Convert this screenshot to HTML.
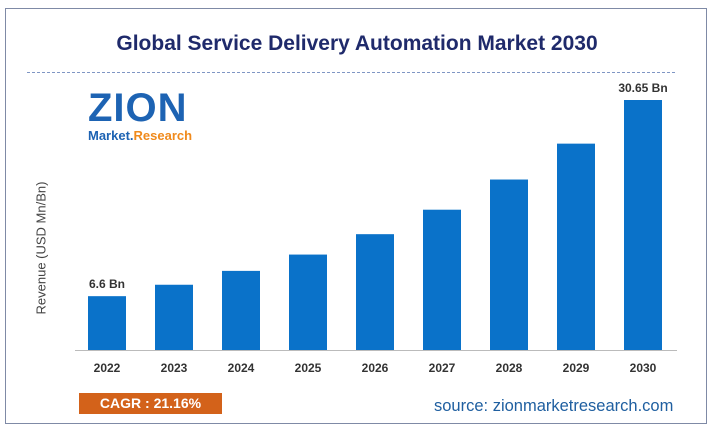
<!DOCTYPE html>
<html><head><meta charset="utf-8"><style>
body{margin:0;width:714px;height:434px;background:#fff;font-family:"Liberation Sans",sans-serif;position:relative;overflow:hidden}
.frame{position:absolute;left:5px;top:8px;width:702px;height:416px;border:1.5px solid #7f8aa6;box-sizing:border-box}
</style></head><body>
<div class="frame"></div>
<div style="position:absolute;left:0;width:714px;top:32px;text-align:center;font-size:21px;font-weight:bold;color:#1f2a6b">Global Service Delivery Automation Market 2030</div>
<div style="position:absolute;left:27px;top:72px;width:648px;border-top:1.5px dashed #7f96c4"></div>
<div style="position:absolute;left:88px;top:88px;width:115px;height:58px">
 <div style="font-size:40px;font-weight:bold;color:#1d63b3;line-height:40px;letter-spacing:1px">ZION</div>
 <div style="font-size:13px;font-weight:bold;line-height:16px"><span style="color:#1d63b3">Market.</span><span style="color:#f08a1c">Research</span></div>
</div>
<div style="position:absolute;left:41px;top:248px;transform:translate(-50%,-50%) rotate(-90deg);font-size:13px;color:#444;white-space:nowrap">Revenue (USD Mn/Bn)</div>
<svg id="chart" width="714" height="434" style="position:absolute;left:0;top:0"></svg>
<div style="position:absolute;left:79px;top:393px;width:143px;height:21px;background:#d3621a;color:#fff;font-weight:bold;font-size:14px;text-align:center;line-height:21px">CAGR : 21.16%</div>
<div style="position:absolute;left:434px;top:397px;font-size:16.5px;color:#1f5fa0">source: zionmarketresearch.com</div>
<script>
const categories=["2022","2023","2024","2025","2026","2027","2028","2029","2030"];
const values=[6.6,8.0,9.7,11.7,14.2,17.2,20.9,25.3,30.65];
const valueLabels=["6.6 Bn","","","","","","","","30.65 Bn"];
const svg=document.getElementById('chart');
const NS="http://www.w3.org/2000/svg";
const base=350, scale=250/30.65;
const x=i=>88+67*i, bw=38, y=v=>base-v*scale;
const ax=document.createElementNS(NS,'line');
ax.setAttribute('x1',75);ax.setAttribute('x2',677);ax.setAttribute('y1',base+0.5);ax.setAttribute('y2',base+0.5);ax.setAttribute('stroke','#bbb');


svg.appendChild(ax);
categories.forEach((c,i)=>{
 const r=document.createElementNS(NS,'rect');
 r.setAttribute('x',x(i));r.setAttribute('width',bw);r.setAttribute('y',y(values[i]));r.setAttribute('height',values[i]*scale);r.setAttribute('fill','#0a72c9');
 
 
 svg.appendChild(r);
 const t=document.createElementNS(NS,'text');
 t.setAttribute('x',x(i)+bw/2);t.setAttribute('y',372);t.setAttribute('text-anchor','middle');t.setAttribute('font-size','12');t.setAttribute('font-weight','bold');t.setAttribute('fill','#333');t.textContent=c;
 
 
 svg.appendChild(t);
 if(valueLabels[i]){
  const l=document.createElementNS(NS,'text');
  l.setAttribute('x',x(i)+bw/2);l.setAttribute('y',y(values[i])-8);l.setAttribute('text-anchor','middle');l.setAttribute('font-size','12');l.setAttribute('font-weight','bold');l.setAttribute('fill','#333');l.textContent=valueLabels[i];
  
  
  svg.appendChild(l);
 }
});
</script>
</body></html>
